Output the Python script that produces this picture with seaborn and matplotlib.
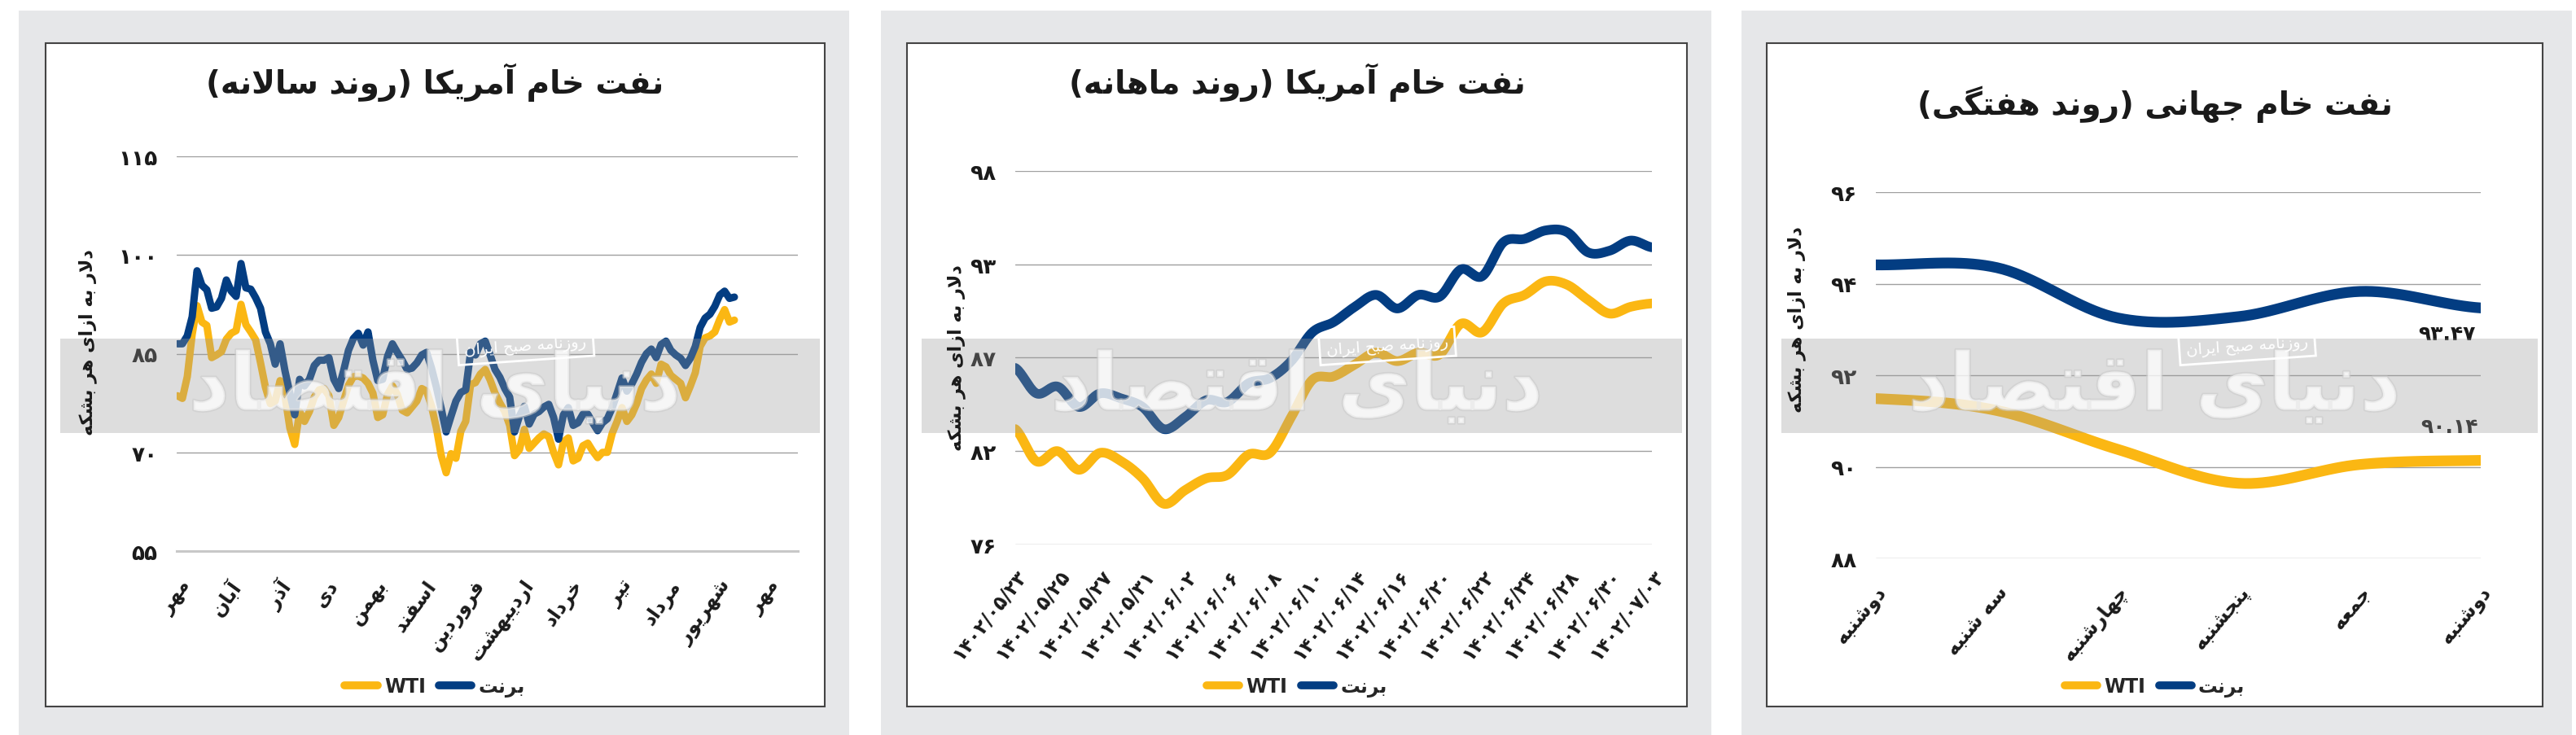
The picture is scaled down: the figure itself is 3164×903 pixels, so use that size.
import numpy as np
import matplotlib
matplotlib.use("Agg")
import matplotlib.pyplot as plt
import matplotlib.patheffects as pe
from matplotlib.patches import Rectangle
from matplotlib.lines import Line2D
import seaborn as sns

# -------------------------
# Data
# -------------------------
yearly_months = ["مهر", "آبان", "آذر", "دی", "بهمن", "اسفند", "فروردین",
                 "اردیبهشت", "خرداد", "تیر", "مرداد", "شهریور", "مهر"]
yearly_brent = [86.5, 86.5, 87.7, 90.6, 97.6, 95.4, 94.7, 91.9, 92.1, 93.4,
                96.2, 94.5, 93.7, 98.7, 95.0, 94.8, 93.5, 91.9, 88.3, 86.5,
                83.4, 86.5, 82.4, 79.0, 75.7, 81.1, 80.1, 81.1, 83.2, 84.0,
                84.0, 84.4, 81.1, 79.7, 82.4, 85.5, 87.3, 88.1, 86.3, 88.3,
                84.0, 80.9, 81.1, 84.6, 86.5, 85.2, 84.0, 82.6, 82.8, 83.6,
                84.8, 85.2, 82.8, 79.9, 76.6, 73.1, 75.5, 77.8,
                79.1, 79.5, 85.2, 84.8, 86.5, 86.9, 84.8, 82.6, 81.4, 79.7,
                78.4, 73.1, 75.5, 77.0, 74.3, 75.8, 76.2, 76.9, 77.3, 75.3,
                72.0, 75.7, 76.8, 74.1, 74.5, 75.8, 75.8, 74.5, 73.3, 74.5,
                75.1, 76.8, 79.0, 81.3, 79.3, 80.4, 81.9, 83.7, 85.0, 85.7,
                84.4, 86.4, 86.9, 85.5, 84.8, 84.3, 83.2, 84.3, 86.1, 89.0,
                90.4, 91.0, 92.2, 93.9, 94.5, 93.4, 93.6]
yearly_wti = [78.6, 78.2, 81.5, 87.9, 92.3, 89.8, 89.3, 84.4, 84.8, 85.3,
              87.2, 88.1, 88.5, 92.5, 89.4, 88.3, 87.1, 83.6, 79.9, 77.4,
              77.8, 80.9, 78.6, 73.7, 71.2, 76.2, 74.7, 76.2, 78.4, 79.5,
              79.7, 78.6, 74.1, 75.3, 77.8, 80.2, 81.5, 81.6, 81.3, 80.5,
              79.0, 75.3, 75.7, 78.8, 80.1, 78.8, 76.4, 76.0, 76.9, 77.8,
              79.7, 79.3, 77.0, 73.7, 69.5, 66.9, 69.8, 69.1,
              73.2, 74.7, 80.3, 80.6, 81.9, 82.6, 81.0, 79.0, 77.5, 76.2,
              74.1, 69.5, 70.4, 73.5, 70.6, 71.4, 72.2, 72.8, 72.4, 70.0,
              68.1, 71.6, 72.2, 68.7, 69.1, 71.0, 71.4, 70.2, 69.2, 70.0,
              70.0, 72.9, 74.7, 76.8, 74.7, 75.7, 77.4, 79.7, 81.0, 81.9,
              80.5, 83.4, 83.0, 81.7, 81.1, 80.5, 78.3, 80.1, 82.1, 86.1,
              87.4, 87.7, 88.3, 90.2, 91.7, 89.8, 90.1]
yearly_yticks = [55, 70, 85, 100, 115]
yearly_ylabels = ["۵۵", "۷۰", "۸۵", "۱۰۰", "۱۱۵"]

monthly_dates = ["۱۴۰۲/۰۵/۲۳", "۱۴۰۲/۰۵/۲۵", "۱۴۰۲/۰۵/۲۷", "۱۴۰۲/۰۵/۳۱",
                 "۱۴۰۲/۰۶/۰۲", "۱۴۰۲/۰۶/۰۶", "۱۴۰۲/۰۶/۰۸", "۱۴۰۲/۰۶/۱۰",
                 "۱۴۰۲/۰۶/۱۴", "۱۴۰۲/۰۶/۱۶", "۱۴۰۲/۰۶/۲۰", "۱۴۰۲/۰۶/۲۲",
                 "۱۴۰۲/۰۶/۲۴", "۱۴۰۲/۰۶/۲۸", "۱۴۰۲/۰۶/۳۰", "۱۴۰۲/۰۷/۰۳"]
monthly_brent = [86.4, 84.9, 85.3, 84.1, 84.9, 84.6, 84.1, 82.8, 83.5, 84.5,
                 84.4, 85.5, 85.8, 86.8, 88.5, 89.1, 90.0, 90.7, 89.9, 90.7,
                 90.6, 92.2, 91.8, 93.8, 94.0, 94.5, 94.4, 93.2, 93.3, 93.9, 93.5]
monthly_wti = [82.8, 80.9, 81.5, 80.4, 81.4, 80.9, 79.9, 78.4, 79.2, 79.9,
               80.1, 81.3, 81.4, 83.5, 85.7, 85.9, 86.6, 87.3, 86.8, 87.3,
               87.2, 89.0, 88.5, 90.2, 90.7, 91.5, 91.3, 90.4, 89.6, 90.0, 90.2]
monthly_yticks = [76, 81.5, 87, 92.5, 98]
monthly_ylabels = ["۷۶", "۸۲", "۸۷", "۹۳", "۹۸"]

weekly_days = ["دوشنبه", "سه شنبه", "چهارشنبه", "پنجشنبه", "جمعه", "دوشنبه"]
weekly_brent = [94.41, 94.35, 93.25, 93.28, 93.83, 93.47]
weekly_wti = [91.49, 91.23, 90.38, 89.64, 90.05, 90.14]
weekly_yticks = [88, 90, 92, 94, 96]
weekly_ylabels = ["۸۸", "۹۰", "۹۲", "۹۴", "۹۶"]
weekly_last_labels = ["۹۳.۴۷", "۹۰.۱۴"]

titles = ["نفت خام آمریکا (روند سالانه)", "نفت خام آمریکا (روند ماهانه)",
          "نفت خام جهانی (روند هفتگی)"]
y_title = "دلار به ازای هر بشکه"
legend_labels = ["WTI", "برنت"]

# -------------------------
# Persian shaping (matplotlib has no bidi / joining support)
# -------------------------
FORMS = {  # isolated, final, initial, medial
    'ا': (0xFE8D, 0xFE8E, 0xFE8D, 0xFE8E), 'آ': (0xFE81, 0xFE82, 0xFE81, 0xFE82),
    'ب': (0xFE8F, 0xFE90, 0xFE91, 0xFE92), 'پ': (0xFB56, 0xFB57, 0xFB58, 0xFB59),
    'ت': (0xFE95, 0xFE96, 0xFE97, 0xFE98), 'ج': (0xFE9D, 0xFE9E, 0xFE9F, 0xFEA0),
    'چ': (0xFB7A, 0xFB7B, 0xFB7C, 0xFB7D), 'ح': (0xFEA1, 0xFEA2, 0xFEA3, 0xFEA4),
    'خ': (0xFEA5, 0xFEA6, 0xFEA7, 0xFEA8), 'د': (0xFEA9, 0xFEAA, 0xFEA9, 0xFEAA),
    'ذ': (0xFEAB, 0xFEAC, 0xFEAB, 0xFEAC), 'ر': (0xFEAD, 0xFEAE, 0xFEAD, 0xFEAE),
    'ز': (0xFEAF, 0xFEB0, 0xFEAF, 0xFEB0), 'س': (0xFEB1, 0xFEB2, 0xFEB3, 0xFEB4),
    'ش': (0xFEB5, 0xFEB6, 0xFEB7, 0xFEB8), 'ص': (0xFEB9, 0xFEBA, 0xFEBB, 0xFEBC),
    'ع': (0xFEC9, 0xFECA, 0xFECB, 0xFECC), 'ف': (0xFED1, 0xFED2, 0xFED3, 0xFED4),
    'ق': (0xFED5, 0xFED6, 0xFED7, 0xFED8), 'ک': (0xFB8E, 0xFB8F, 0xFB90, 0xFB91),
    'گ': (0xFB92, 0xFB93, 0xFB94, 0xFB95), 'ل': (0xFEDD, 0xFEDE, 0xFEDF, 0xFEE0),
    'م': (0xFEE1, 0xFEE2, 0xFEE3, 0xFEE4), 'ن': (0xFEE5, 0xFEE6, 0xFEE7, 0xFEE8),
    'ه': (0xFEE9, 0xFEEA, 0xFEEB, 0xFEEC), 'و': (0xFEED, 0xFEEE, 0xFEED, 0xFEEE),
    'ی': (0xFBFC, 0xFBFD, 0xFBFE, 0xFBFF),
}
RIGHT_ONLY = set("اآدذرزو")
LAM_ALEF = {'ا': (0xFEFB, 0xFEFC), 'آ': (0xFEF5, 0xFEF6)}


def shape(text):
    out, i, n = [], 0, len(text)
    while i < n:
        c = text[i]
        if c not in FORMS:
            out.append(c)
            i += 1
            continue
        prev = text[i - 1] if i > 0 else ''
        link_prev = prev in FORMS and prev not in RIGHT_ONLY
        if c == 'ل' and i + 1 < n and text[i + 1] in LAM_ALEF:
            out.append(chr(LAM_ALEF[text[i + 1]][1 if link_prev else 0]))
            i += 2
            continue
        nxt = text[i + 1] if i + 1 < n else ''
        link_next = c not in RIGHT_ONLY and nxt in FORMS
        iso, fin, ini, med = FORMS[c]
        code = med if (link_prev and link_next) else fin if link_prev else ini if link_next else iso
        out.append(chr(code))
        i += 1
    return ''.join(out)


def is_ltr(ch):
    return (ch.isascii() and ch.isalnum()) or '\u06f0' <= ch <= '\u06f9' or ch in './'


def rtl(text):
    s = shape(text)
    runs = []
    for ch in s:
        kind = is_ltr(ch)
        if runs and runs[-1][0] == kind:
            runs[-1][1].append(ch)
        else:
            runs.append((kind, [ch]))
    mirror = {'(': ')', ')': '('}
    parts = []
    for kind, chars in reversed(runs):
        if kind:
            parts.append(''.join(chars))
        else:
            parts.append(''.join(mirror.get(c, c) for c in reversed(chars)))
    return ''.join(parts)


def smooth(values, k=20):
    # Catmull-Rom curve through the points (Excel style smoothed line)
    y = np.asarray(values, float)
    p = np.concatenate([[y[0]], y, [y[-1]]])
    t = np.linspace(0, 1, k, endpoint=False)
    xs, ys = [], []
    for i in range(len(y) - 1):
        p0, p1, p2, p3 = p[i], p[i + 1], p[i + 2], p[i + 3]
        ys.append(0.5 * (2 * p1 + (p2 - p0) * t + (2 * p0 - 5 * p1 + 4 * p2 - p3) * t ** 2
                         + (3 * p1 - p0 - 3 * p2 + p3) * t ** 3))
        xs.append(i + t)
    xs.append([len(y) - 1])
    ys.append([y[-1]])
    return np.concatenate(xs), np.concatenate(ys)


# -------------------------
# Figure / layout
# -------------------------
sns.set_style("white")
plt.rcParams['font.family'] = ['DejaVu Sans']

W, H = 3164, 904
fig = plt.figure(figsize=(W / 100, H / 100), dpi=100)
fig.patch.set_facecolor('white')

BRENT = '#033d82'
WTI = '#fbb713'
BG = '#e6e7e9'
INK = '#1a1a1a'


def frect(x0, y0, x1, y1):
    return [x0 / W, 1 - y1 / H, (x1 - x0) / W, (y1 - y0) / H]


panels = [
    dict(gray=(23, 1043), box=(55.5, 1013), ax=(217, 193, 980, 678), title_y=101,
         ylab=(108, 421)),
    dict(gray=(1082, 2102), box=(1114, 2072), ax=(1247, 211, 2029, 670), title_y=101,
         ylab=(1175, 440)),
    dict(gray=(2139, 3159), box=(2170, 3123), ax=(2304, 237, 3047, 687), title_y=128,
         ylab=(2207, 393)),
]

axes = []
for k, p in enumerate(panels):
    g0, g1 = p['gray']
    b0, b1 = p['box']
    fig.add_artist(Rectangle((g0 / W, 0), (g1 - g0) / W, 1 - 14 / H, transform=fig.transFigure,
                             facecolor=BG, edgecolor='none', zorder=-3))
    fig.add_artist(Rectangle((b0 / W, 1 - 869 / H), (b1 - b0) / W, (869 - 54) / H,
                             transform=fig.transFigure, facecolor='white',
                             edgecolor='#444444', lw=1.5, zorder=-2))
    cx = (b0 + b1) / 2 / W
    fig.text(cx, 1 - p['title_y'] / H, rtl(titles[k]), ha='center', va='center',
             fontsize=28, fontweight='bold', color=INK, zorder=6)
    fig.text(p['ylab'][0] / W, 1 - p['ylab'][1] / H, rtl(y_title), rotation=90,
             ha='center', va='center', fontsize=16, fontweight='bold', color=INK, zorder=6)

    # watermark: grey band, stamp and big outlined logo text
    fig.add_artist(Rectangle(((b0 + 18) / W, 1 - 533 / H), (b1 - b0 - 24) / W, 116 / H,
                             transform=fig.transFigure, facecolor='#9a9a9a', alpha=0.33,
                             edgecolor='none', zorder=2))
    fig.text(cx, 1 - 478 / H, rtl("دنیای اقتصاد"), ha='center',
             va='center', fontsize=70, fontweight='bold', color=(1, 1, 1, 0.5), zorder=3,
             path_effects=[pe.withStroke(linewidth=2.5, foreground=(0.8, 0.8, 0.8, 0.6))])
    fig.text((b0 + 590) / W, 1 - 426 / H, rtl("روزنامه صبح ایران"), ha='center', va='center',
             fontsize=14, color='white', rotation=4, zorder=4,
             bbox=dict(facecolor='none', edgecolor='white', lw=2, pad=6))

    ax = fig.add_axes(frect(*p['ax']))
    axes.append(ax)

ax1, ax2, ax3 = axes

# Panel 1: yearly
n1 = np.arange(len(yearly_brent))
sns.lineplot(x=n1, y=yearly_wti, ax=ax1, color=WTI, linewidth=6.5,
             solid_joinstyle='round', solid_capstyle='round')
sns.lineplot(x=n1, y=yearly_brent, ax=ax1, color=BRENT, linewidth=6.5,
             solid_joinstyle='round', solid_capstyle='round')
ax1.set_xlim(-0.17, 127)
ax1.set_ylim(55, 115)
ax1.set_xticks(np.arange(len(yearly_months)) * 10.04 + 0.33)
ax1.set_xticklabels([rtl(m) for m in yearly_months])
ax1.set_yticks(yearly_yticks)
ax1.set_yticklabels(yearly_ylabels)

# Panel 2: monthly
xs, ys = smooth(monthly_wti)
sns.lineplot(x=xs, y=ys, ax=ax2, color=WTI, linewidth=8.5, solid_capstyle='round')
xs, ys = smooth(monthly_brent)
sns.lineplot(x=xs, y=ys, ax=ax2, color=BRENT, linewidth=8.5, solid_capstyle='round')
ax2.set_xlim(0, len(monthly_brent) - 1)
ax2.set_ylim(76, 98)
ax2.set_xticks(np.arange(0, len(monthly_brent), 2))
ax2.set_xticklabels(monthly_dates)
ax2.set_yticks(monthly_yticks)
ax2.set_yticklabels(monthly_ylabels)

# Panel 3: weekly
xs, ys = smooth(weekly_wti)
sns.lineplot(x=xs, y=ys, ax=ax3, color=WTI, linewidth=9.5, solid_capstyle='round')
xs, ys = smooth(weekly_brent)
sns.lineplot(x=xs, y=ys, ax=ax3, color=BRENT, linewidth=9.5, solid_capstyle='round')
ax3.set_xlim(0, len(weekly_days) - 1)
ax3.set_ylim(88, 96)
ax3.set_xticks(np.arange(len(weekly_days)))
ax3.set_xticklabels([rtl(d) for d in weekly_days])
ax3.set_yticks(weekly_yticks)
ax3.set_yticklabels(weekly_ylabels)
last = len(weekly_days) - 1
ax3.annotate(weekly_last_labels[0], xy=(last, weekly_brent[-1]), xytext=(-42, -32),
             textcoords='offset pixels', ha='center', va='center', fontsize=18,
             fontweight='bold', color=INK, zorder=5)
ax3.annotate(weekly_last_labels[1], xy=(last, weekly_wti[-1]), xytext=(-38, 42),
             textcoords='offset pixels', ha='center', va='center', fontsize=18,
             fontweight='bold', color=INK, zorder=5)

rotations = [54, 52, 50]
xpads = [22, 18, 21]
handles = [Line2D([0], [0], color=WTI, lw=7, solid_capstyle='round'),
           Line2D([0], [0], color=BRENT, lw=7, solid_capstyle='round')]
for k, ax in enumerate(axes):
    ax.set_facecolor('none')
    for s in ax.spines.values():
        s.set_visible(False)
    ax.set_xlabel('')
    ax.set_ylabel('')
    ax.yaxis.grid(True, color='#9f9f9f', lw=1.0)
    ax.xaxis.grid(False)
    ax.set_axisbelow(True)
    ax.tick_params(axis='y', length=0, pad=17, labelsize=19, labelcolor=INK)
    ax.tick_params(axis='x', length=0, pad=xpads[k], labelsize=17, labelcolor=INK)
    for lab in ax.get_yticklabels():
        lab.set_fontweight('bold')
    for lab in ax.get_xticklabels():
        lab.set_fontweight('bold')
        lab.set_rotation(rotations[k])
        lab.set_ha('right')
        lab.set_va('top')
        lab.set_rotation_mode('anchor')
    b0, b1 = panels[k]['box']
    ax.legend(handles, [rtl(t) for t in legend_labels], loc='center',
              bbox_to_anchor=((b0 + b1) / 2 / W, 1 - 845 / H), bbox_transform=fig.transFigure,
              ncol=2, frameon=False, handlelength=1.7, handletextpad=0.35, columnspacing=0.7,
              prop={'weight': 'bold', 'size': 17})

ax1.spines['bottom'].set_visible(True)
ax1.spines['bottom'].set_color('#c8c8c8')
ax1.spines['bottom'].set_linewidth(2.2)

fig.savefig("out.png", dpi=100, facecolor='white')
